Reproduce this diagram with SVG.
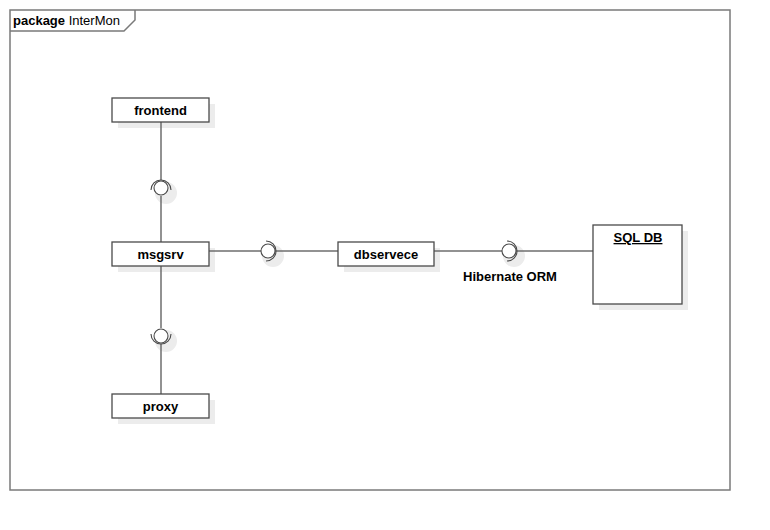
<svg xmlns="http://www.w3.org/2000/svg" width="770" height="530" viewBox="0 0 770 530">
  <style>
    text { font-family: "Liberation Sans", Arial, sans-serif; font-size: 13px; fill: #000; }
    .b { font-weight: bold; }
    .frame { fill: none; stroke: #7a7a7a; stroke-width: 1.5; }
    .box { fill: #fff; stroke: #4a4a4a; stroke-width: 1.3; }
    .shadow { fill: #ececec; }
    .wire { fill: none; stroke: #6e6e6e; stroke-width: 1.5; }
    .ball { fill: #fff; stroke: #4a4a4a; stroke-width: 1.1; }
    .socket { fill: none; stroke: #4a4a4a; stroke-width: 1.1; }
  </style>
  <rect width="770" height="530" fill="#fff"/>

  <!-- package frame -->
  <g id="package-InterMon">
    <rect class="frame" x="10" y="10" width="720" height="480"/>
    <path class="frame" d="M10 31 H124 L135 20 V10"/>
    <text x="13" y="25"><tspan class="b">package</tspan> InterMon</text>
  </g>

  <!-- drop shadows, drawn beneath everything else -->
  <g id="shadows">
    <rect class="shadow" x="118" y="104" width="97" height="24"/>
    <rect class="shadow" x="118" y="248" width="97" height="24"/>
    <rect class="shadow" x="118" y="400" width="97" height="24"/>
    <rect class="shadow" x="344" y="248" width="96" height="24"/>
    <rect class="shadow" x="599" y="231" width="89" height="79"/>
    <circle class="shadow" cx="166" cy="193" r="11"/>
    <circle class="shadow" cx="166" cy="341" r="11"/>
    <circle class="shadow" cx="273" cy="256" r="11"/>
    <circle class="shadow" cx="514" cy="256" r="11"/>
  </g>

  <!-- connectors and interface symbols -->
  <g id="connectors">
    <!-- frontend - msgsrv -->
    <line class="wire" x1="161" y1="122" x2="161" y2="180"/>
    <line class="wire" x1="161" y1="196" x2="161" y2="242"/>
    <circle class="ball" cx="161" cy="188" r="7"/>
    <path class="socket" d="M151 190 A10 10 0 0 1 171 190"/>

    <!-- msgsrv - proxy -->
    <line class="wire" x1="161" y1="266" x2="161" y2="328"/>
    <line class="wire" x1="161" y1="344" x2="161" y2="394"/>
    <circle class="ball" cx="161" cy="336" r="7"/>
    <path class="socket" d="M151 334 A10 10 0 0 0 171 334"/>

    <!-- msgsrv - dbservece -->
    <line class="wire" x1="209" y1="251" x2="261" y2="251"/>
    <line class="wire" x1="275" y1="251" x2="338" y2="251"/>
    <circle class="ball" cx="268" cy="251" r="7"/>
    <path class="socket" d="M266 241 A10 10 0 0 1 266 261"/>

    <!-- dbservece - SQL DB -->
    <line class="wire" x1="434" y1="251" x2="502" y2="251"/>
    <line class="wire" x1="516" y1="251" x2="593" y2="251"/>
    <circle class="ball" cx="509" cy="251" r="7"/>
    <path class="socket" d="M507 241 A10 10 0 0 1 507 261"/>
    <text class="b" x="463" y="281">Hibernate ORM</text>
  </g>

  <g id="frontend">
    <rect class="box" x="112" y="98" width="97" height="24"/>
    <text class="b" x="160.5" y="115" text-anchor="middle">frontend</text>
  </g>

  <g id="msgsrv">
    <rect class="box" x="112" y="242" width="97" height="24"/>
    <text class="b" x="160.5" y="259" text-anchor="middle">msgsrv</text>
  </g>

  <g id="proxy">
    <rect class="box" x="112" y="394" width="97" height="24"/>
    <text class="b" x="160.5" y="411" text-anchor="middle">proxy</text>
  </g>

  <g id="dbservece">
    <rect class="box" x="338" y="242" width="96" height="24"/>
    <text class="b" x="386" y="259" text-anchor="middle">dbservece</text>
  </g>

  <g id="sql-db">
    <rect class="box" x="593" y="225" width="89" height="79"/>
    <text class="b" x="638" y="242" text-anchor="middle" text-decoration="underline">SQL DB</text>
  </g>
</svg>
